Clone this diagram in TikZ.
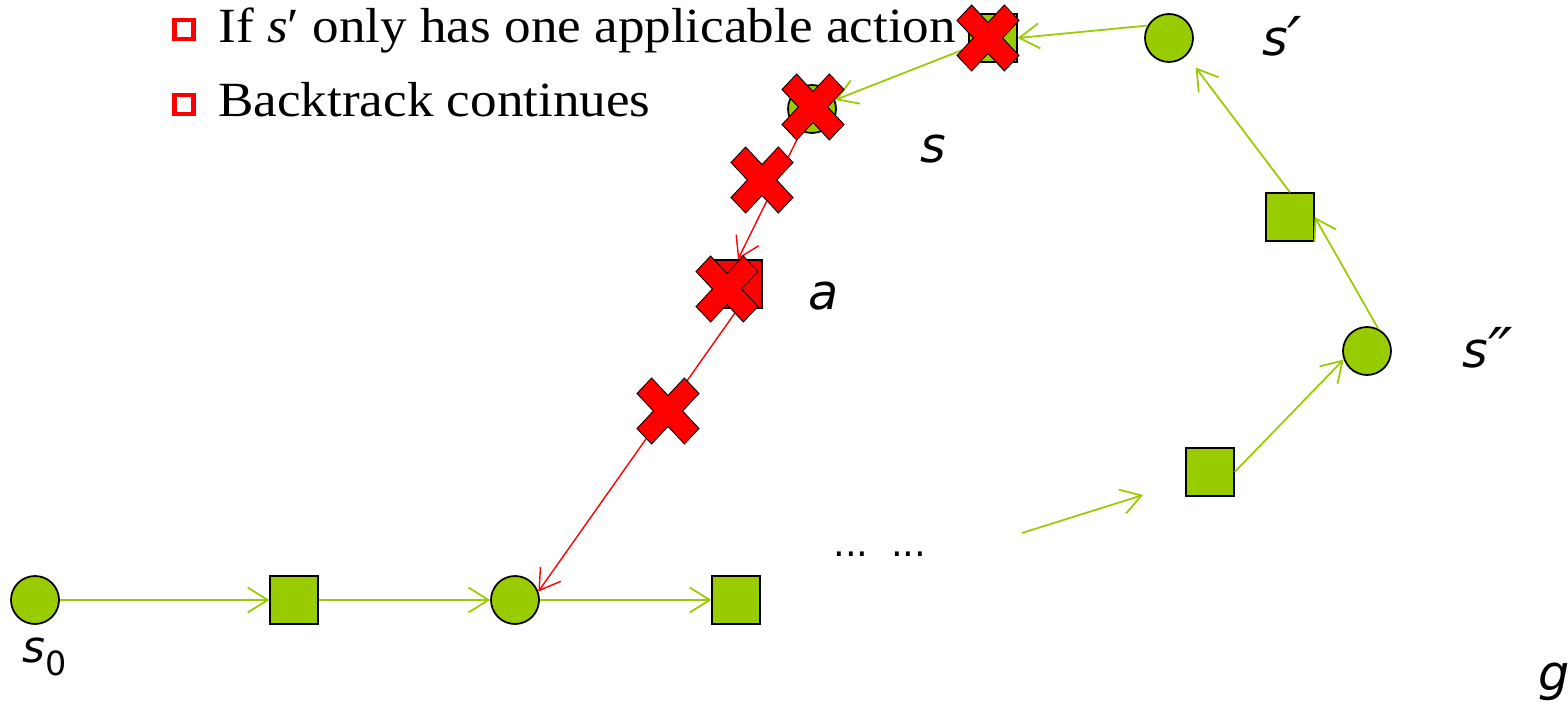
\documentclass[tikz,border=0pt]{standalone}
\usepackage{fontspec}
\setmainfont{Liberation Serif}
\newfontfamily\notefont[FakeStretch=1.08]{Liberation Serif}
\newfontfamily\labelfont{DejaVu Sans}
\usetikzlibrary{arrows.meta,positioning}
\definecolor{leaf}{HTML}{99CC00}
\definecolor{halt}{HTML}{FF0000}
\definecolor{ink}{HTML}{000000}
\newcommand\primemark{\raisebox{-3.5pt}{\fontsize{36}{36}\selectfont ′}}
\tikzset{
  state/.style={circle, draw=ink, fill=leaf, line width=1pt, minimum size=0.96cm, inner sep=0pt},
  action/.style={rectangle, draw=ink, fill=leaf, line width=1pt, minimum size=0.95cm, inner sep=0pt},
  flow/.style={-{Straight Barb[length=4mm,width=5mm]}, line width=1pt, draw=leaf},
  undo/.style={-{Straight Barb[length=4mm,width=5mm]}, line width=0.8pt, draw=halt},
  crossmark/.style={draw=ink, fill=halt, line width=0.5pt, line join=miter},
  tag/.style={font=\labelfont\itshape\fontsize{28}{34}\selectfont, inner sep=0pt, anchor=base west},
  bullet/.style={draw=halt, line width=2.8pt, minimum size=0.38cm, inner sep=0pt},
  bulletline/.style={font=\notefont\fontsize{28}{34}\selectfont, inner sep=0pt, anchor=base west}
}

\begin{document}
\begin{tikzpicture}[x=0.02cm, y=-0.02cm]
  \useasboundingbox (0,0) rectangle (1568,702);

  % notes
  \node[bullet] (bulletA) at (184,29.5) {};
  \node[bulletline] (noteA) at (218,43) {If \textit{s}′ only has one applicable action};
  \node[bullet] (bulletB) at (184,104.5) {};
  \node[bulletline] (noteB) at (218,117) {Backtrack continues};

  % states and actions
  \node[state]  (sInit)   at (35,600) {};
  \node[action] (aOne)    at (294,600) {};
  \node[state]  (sMid)    at (515,600) {};
  \node[action] (aTwo)    at (736,600) {};
  \node[action] (aThree)  at (1210,472) {};
  \node[state]  (sDouble) at (1367,351) {};
  \node[action] (aFour)   at (1290,217) {};
  \node[state]  (sPrime)  at (1169,38) {};
  \node[action] (aTop)    at (993,38) {};
  \node[state]  (sState)  at (812,109) {};
  \node[action, fill=halt] (aBad) at (738,284) {};

  \coordinate (dotsOut) at (1022,533);
  \coordinate (dotsIn)  at (1143,495);

  % labels
  \node[tag] (lblS)   at (920,163)  {s};
  \node[tag] (lblA)   at (808,310)  {a};
  \node[tag] (lblSp)  at (1262,56)  {s\primemark};
  \node[tag] (lblSpp) at (1462,367) {s\primemark\kern-2pt\primemark};
  \node[tag] (lblG)   at (1538,690) {g};
  \node[tag, font=\labelfont\itshape\fontsize{25}{30}\selectfont] (lblS0) at (22,662)
    {s\raisebox{-7.4pt}{\upshape\fontsize{19}{20}\selectfont 0}};
  \node[tag, font=\labelfont\fontsize{21}{24}\selectfont] (dots) at (833,556) {...\hspace{0.45cm}...};

  % forward path
  \draw[flow] (sInit) -- (aOne);
  \draw[flow] (aOne) -- (sMid);
  \draw[flow] (sMid) -- (aTwo);
  \draw[flow] (dotsOut) -- (dotsIn);
  \draw[flow] (aThree.east) -- (sDouble.200);
  \draw[flow] (sDouble.63) -- (aFour.east);
  \draw[flow, shorten >=0.3cm] (aFour.north) -- (sPrime.-45);
  \draw[flow] (sPrime.150) -- (aTop.east);
  \draw[flow] (aTop) -- (sState);

  % backtracking
  \draw[undo] (sState) -- (aBad.north);
  \draw[undo] (aBad.south) -- (sMid.20);

  \foreach \px/\py in {988/38, 813/107, 762/180, 727/289, 668/411} {
    \draw[crossmark, shift={(\px,\py)}]
      (-31,-17.5) -- (-16.4,-33) -- (0,-15.5) -- (16.4,-33) -- (31,-17.5) -- (14.6,0)
      -- (31,17.5) -- (16.4,33) -- (0,15.5) -- (-16.4,33) -- (-31,17.5) -- (-14.6,0) -- cycle;
  }
\end{tikzpicture}
\end{document}
